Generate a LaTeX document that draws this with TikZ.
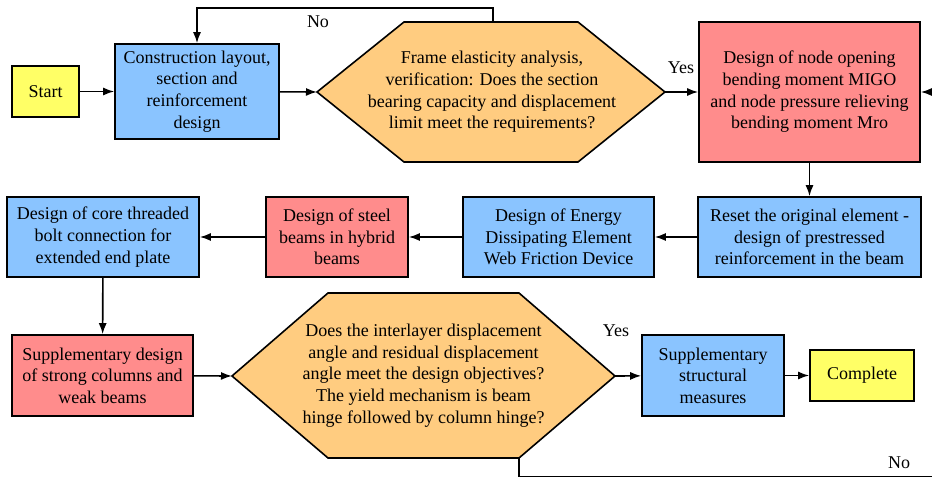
\documentclass[tikz,border=0pt]{standalone}
\usepackage{fontspec}
\setmainfont{Liberation Serif}
\usetikzlibrary{arrows.meta}
\definecolor{cyel}{RGB}{255,255,102}
\definecolor{cblue}{RGB}{138,196,255}
\definecolor{cred}{RGB}{255,140,140}
\definecolor{corange}{RGB}{255,204,128}
\tikzset{
  box/.style={draw, line width=1.6pt, align=center, inner sep=0pt, font=\fontsize{18}{21.6}\selectfont},
  ybox/.style={box, fill=cyel},
  bbox/.style={box, fill=cblue},
  rbox/.style={box, fill=cred},
  hex/.style={draw, line width=1.6pt, fill=corange, line join=miter},
  htext/.style={align=center, inner sep=0pt, font=\fontsize{18}{21.6}\selectfont},
  lbl/.style={inner sep=0pt, font=\fontsize{18}{21.6}\selectfont},
  conn/.style={line width=1.6pt, -{Latex[length=11pt,width=8pt]}},
  plain/.style={line width=1.6pt}
}
\begin{document}
\begin{tikzpicture}[x=1pt,y=-1pt]
\useasboundingbox (0,0) rectangle (932,478);
% row 1
\node[ybox, minimum width=67pt, minimum height=51pt] (start) at (45.5,91.5) {Start};
\node[bbox, minimum width=164pt, minimum height=95pt] (constr) at (197,91.5) {Construction layout,\\section and\\reinforcement\\design};
\draw[hex] (317,92) -- (404,22) -- (578,22) -- (665,92) -- (578,162) -- (404,162) -- cycle;
\coordinate (h1w) at (317,92);
\coordinate (h1e) at (665,92);
\coordinate (h1n) at (493,22);
\node[htext] (h1) at (492,92) {Frame elasticity analysis,\\verification: Does the section\\bearing capacity and displacement\\limit meet the requirements?};
\node[rbox, minimum width=221pt, minimum height=140pt] (mnode) at (809.5,92) {Design of node opening\\bending moment MIGO\\and node pressure relieving\\bending moment Mro};
% row 2
\node[bbox, minimum width=223pt, minimum height=80pt] (reset) at (809.5,237) {Reset the original element -\\design of prestressed\\reinforcement in the beam};
\node[bbox, minimum width=191pt, minimum height=80pt] (energy) at (558.5,237) {Design of Energy\\Dissipating Element\\Web Friction Device};
\node[rbox, minimum width=142pt, minimum height=80pt] (steel) at (337,237) {Design of steel\\beams in hybrid\\beams};
\node[bbox, minimum width=192pt, minimum height=80pt] (core) at (103,237) {Design of core threaded\\bolt connection for\\extended end plate};
% row 3
\node[rbox, minimum width=181pt, minimum height=81pt] (suppd) at (102.5,375.5) {Supplementary design\\of strong columns and\\weak beams};
\draw[hex] (232,376) -- (328,293) -- (519,293) -- (615,376) -- (519,458) -- (328,458) -- cycle;
\coordinate (h2w) at (232,376);
\coordinate (h2e) at (615,376);
\coordinate (h2s) at (519,458);
\node[htext] (h2) at (423.5,375.5) {Does the interlayer displacement\\angle and residual displacement\\angle meet the design objectives?\\The yield mechanism is beam\\hinge followed by column hinge?};
\node[bbox, minimum width=142pt, minimum height=81pt] (supps) at (713,375.5) {Supplementary\\structural\\measures};
\node[ybox, minimum width=104pt, minimum height=51pt] (complete) at (862,375.5) {Complete};
% connectors
\draw[conn] (start) -- (constr);
\draw[conn] (constr) -- (h1w);
\draw[conn] (h1e) -- (mnode);
\coordinate (fbtr) at (493,8);
\coordinate (fbtl) at (197,8);
\draw[conn] (h1n) -- (fbtr) -- (fbtl) -- (constr.north);
\coordinate (rin) at (932,92);
\draw[conn] (rin) -- (mnode.east);
\draw[conn] (mnode) -- (reset);
\draw[conn] (reset) -- (energy);
\draw[conn] (energy) -- (steel);
\draw[conn] (steel) -- (core);
\draw[conn] (core) -- (suppd);
\draw[conn] (suppd) -- (h2w);
\draw[conn] (h2e) -- (supps);
\draw[conn] (supps) -- (complete);
\coordinate (nob) at (519,476.5);
\coordinate (nor) at (932,476.5);
\draw[plain] (h2s) -- (nob) -- (nor);
% labels
\node[lbl] (lno1) at (318,22) {No};
\node[lbl] (lyes1) at (681,68) {Yes};
\node[lbl] (lyes2) at (616,331) {Yes};
\node[lbl] (lno2) at (899,463) {No};
\end{tikzpicture}
\end{document}
